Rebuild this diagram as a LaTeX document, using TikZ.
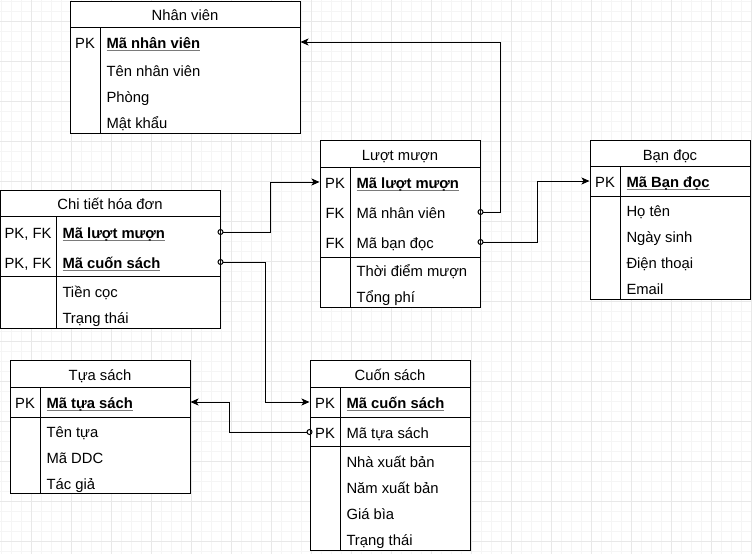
\documentclass[tikz,border=0pt]{standalone}
\usepackage{fontspec}
\setmainfont{Liberation Sans}
\usetikzlibrary{arrows.meta}
\definecolor{gridmin}{HTML}{F5F5F5}
\definecolor{gridmaj}{HTML}{E8E8E8}
\definecolor{ulgray}{HTML}{7A7A7A}
\newcommand{\keyname}[1]{\setbox0\hbox{\bfseries #1}%
  \rlap{\color{ulgray}\rule[-3pt]{\wd0}{1.3pt}}\box0}

\begin{document}
\begin{tikzpicture}[x=1pt,y=-1pt,line width=1pt,
  font=\fontsize{14.8}{17}\selectfont,
  tbl/.style={draw,inner sep=0pt},
  ttl/.style={inner sep=0pt,text height=13pt,text depth=1pt},
  key/.style={inner sep=0pt,text height=13pt,text depth=1pt},
  fld/.style={anchor=west,inner sep=0pt,text height=13pt,text depth=1pt},
  rel/.style={{Circle[open,length=6pt,width=6pt]}-{Stealth[length=8pt,width=7pt,inset=2pt]},
    shorten <=-3pt}]
  \useasboundingbox (0,0) rectangle (752,554);

  % grid
  \foreach \g in {1,11,...,751} \draw[gridmin] (\g,0) -- (\g,554);
  \foreach \g in {1,11,...,551} \draw[gridmin] (0,\g) -- (752,\g);
  \foreach \g in {31,71,...,751} \draw[gridmaj] (\g,0) -- (\g,554);
  \foreach \g in {21,61,...,541} \draw[gridmaj] (0,\g) -- (752,\g);

  % Nhan vien
  \node[tbl,fill=white,minimum width=230pt,minimum height=132pt] (nv) at (185,67) {};
  \draw (70,27) -- (300,27);
  \draw (100,27) -- (100,133);
  \node[ttl] (nv-t) at (185,14) {Nhân viên};
  \node[key] (nv-pk) at (85,42) {PK};
  \node[fld] (nv-ma) at (106,42) {\keyname{Mã nhân viên}};
  \foreach \t [count=\i] in {Tên nhân viên,Phòng,Mật khẩu}
    \node[fld] (nv-f\i) at (106,{44+26*\i}) {\t};

  % Luot muon
  \node[tbl,fill=white,minimum width=160pt,minimum height=167pt] (lm) at (400,223.5) {};
  \draw (320,167) -- (480,167);
  \draw (320,257) -- (480,257);
  \draw (350,167) -- (350,307);
  \node[ttl] (lm-t) at (400,154) {Lượt mượn};
  \node[key] (lm-pk) at (335,182) {PK};
  \node[key] (lm-fk1) at (335,212) {FK};
  \node[key] (lm-fk2) at (335,242) {FK};
  \node[fld] (lm-ma) at (356,182) {\keyname{Mã lượt mượn}};
  \node[fld] (lm-nv) at (356,212) {Mã nhân viên};
  \node[fld] (lm-bd) at (356,242) {Mã bạn đọc};
  \node[fld] (lm-f1) at (356,270) {Thời điểm mượn};
  \node[fld] (lm-f2) at (356,296) {Tổng phí};

  % Ban doc
  \node[tbl,fill=white,minimum width=160pt,minimum height=159pt] (bd) at (670,219.5) {};
  \draw (590,166) -- (750,166);
  \draw (590,196) -- (750,196);
  \draw (620,166) -- (620,299);
  \node[ttl] (bd-t) at (670,154) {Bạn đọc};
  \node[key] (bd-pk) at (605,181) {PK};
  \node[fld] (bd-ma) at (626,181) {\keyname{Mã Bạn đọc}};
  \foreach \t [count=\i] in {Họ tên,Ngày sinh,Điện thoại,Email}
    \node[fld] (bd-f\i) at (626,{184+26*\i}) {\t};

  % Chi tiet hoa don
  \node[tbl,fill=white,minimum width=219.5pt,minimum height=138pt] (ct) at (110.25,259) {};
  \draw (0.5,216) -- (220,216);
  \draw (0.5,276) -- (220,276);
  \draw (56,216) -- (56,328);
  \node[ttl] (ct-t) at (110,203) {Chi tiết hóa đơn};
  \node[key] (ct-pk1) at (28,232) {PK, FK};
  \node[key] (ct-pk2) at (28,262) {PK, FK};
  \node[fld] (ct-lm) at (62,232) {\keyname{Mã lượt mượn}};
  \node[fld] (ct-cs) at (62,262) {\keyname{Mã cuốn sách}};
  \node[fld] (ct-f1) at (62,291) {Tiền cọc};
  \node[fld] (ct-f2) at (62,317) {Trạng thái};

  % Tua sach
  \node[tbl,fill=white,minimum width=180pt,minimum height=133pt] (ts) at (100,426.5) {};
  \draw (10,387) -- (190,387);
  \draw (10,417) -- (190,417);
  \draw (40,387) -- (40,493);
  \node[ttl] (ts-t) at (100,374) {Tựa sách};
  \node[key] (ts-pk) at (25,402) {PK};
  \node[fld] (ts-ma) at (46,402) {\keyname{Mã tựa sách}};
  \foreach \t [count=\i] in {Tên tựa,Mã DDC,Tác giả}
    \node[fld] (ts-f\i) at (46,{405+26*\i}) {\t};

  % Cuon sach
  \node[tbl,fill=white,minimum width=160pt,minimum height=190pt] (cs) at (390,455) {};
  \draw (310,387) -- (470,387);
  \draw (310,417) -- (470,417);
  \draw (310,446) -- (470,446);
  \draw (340,387) -- (340,550);
  \node[ttl] (cs-t) at (390,374) {Cuốn sách};
  \node[key] (cs-pk1) at (325,402) {PK};
  \node[key] (cs-pk2) at (325,432) {PK};
  \node[fld] (cs-ma) at (346,402) {\keyname{Mã cuốn sách}};
  \node[fld] (cs-ts) at (346,432) {Mã tựa sách};
  \foreach \t [count=\i] in {Nhà xuất bản,Năm xuất bản,Giá bìa,Trạng thái}
    \node[fld] (cs-f\i) at (346,{435+26*\i}) {\t};

  % relations
  \draw[rel] (lm.east |- lm-nv) -- ++(20,0) |- (nv.east |- nv-ma);
  \draw[rel] (lm.east |- lm-bd) -- ++(57,0) |- (bd.west |- bd-ma);
  \draw[rel] (ct.east |- ct-lm) -- ++(50,0) |- (lm.west |- lm-ma);
  \draw[rel] (ct.east |- ct-cs) -- ++(45,0) |- (cs.west |- cs-ma);
  \draw[rel] (cs.west |- cs-ts) -- ++(-80,0) |- (ts.east |- ts-ma);
\end{tikzpicture}
\end{document}
